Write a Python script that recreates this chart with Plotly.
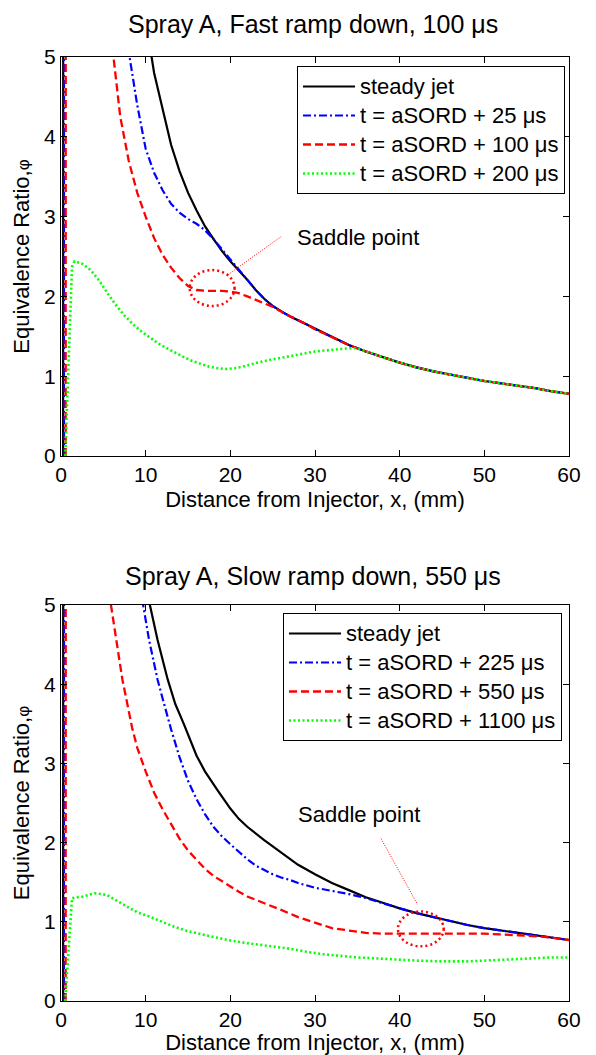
import plotly.graph_objects as go

# ---- Spray A, fast ramp down (100 us) ----
fast_steady_x = [0.25, 0.35, 3, 6, 9, 10.7, 11, 12, 13, 14, 15, 16, 17, 18, 19, 20, 21, 22, 23, 24, 25, 26, 27,
                 28, 29, 30, 32, 34, 36, 38, 40, 42, 44, 46, 48, 50, 52, 54, 56, 58, 60]
fast_steady_y = [0, 60, 25, 12, 6.8, 5.0, 4.8, 4.33, 3.9, 3.57, 3.30, 3.08, 2.88, 2.72, 2.57, 2.44, 2.33, 2.21,
                 2.08, 1.97, 1.88, 1.81, 1.75, 1.70, 1.65, 1.59, 1.49, 1.39, 1.31, 1.24, 1.17, 1.11, 1.06, 1.02,
                 0.98, 0.94, 0.91, 0.88, 0.85, 0.81, 0.78]

fast_25_x = [0.35, 0.45, 3, 6, 8.1, 9, 10, 11, 12, 13, 14, 15, 16, 17, 18, 19, 20, 21, 22, 23, 24, 25, 26, 27,
             28, 29, 30, 32, 34, 36, 38, 40, 42, 44, 46, 48, 50, 52, 54, 56, 58, 60]
fast_25_y = [0, 60, 25, 9, 5.0, 4.4, 3.85, 3.55, 3.33, 3.16, 3.05, 2.97, 2.91, 2.83, 2.72, 2.59, 2.46, 2.34,
             2.21, 2.08, 1.97, 1.88, 1.81, 1.75, 1.70, 1.65, 1.59, 1.49, 1.39, 1.31, 1.24, 1.17, 1.11, 1.06,
             1.02, 0.98, 0.94, 0.91, 0.88, 0.85, 0.81, 0.78]

fast_100_x = [0.55, 0.65, 3, 5, 6.2, 7, 8, 9, 10, 11, 12, 13, 14, 15, 16, 17, 18, 19, 20, 21, 22, 23, 24, 25,
              26, 27, 28, 29, 30, 32, 34, 36, 38, 40, 42, 44, 46, 48, 50, 52, 54, 56, 58, 60]
fast_100_y = [0, 60, 20, 8, 5.0, 4.25, 3.7, 3.3, 3.0, 2.73, 2.52, 2.36, 2.23, 2.13, 2.08, 2.07, 2.07, 2.07,
              2.06, 2.04, 2.00, 1.96, 1.92, 1.87, 1.81, 1.75, 1.70, 1.65, 1.59, 1.49, 1.39, 1.31, 1.24, 1.17,
              1.11, 1.06, 1.02, 0.98, 0.94, 0.91, 0.88, 0.85, 0.81, 0.78]

fast_200_x = [0.5, 0.75, 1.0, 1.3, 1.6, 2.5, 3.5, 4.5, 5.5, 6.5, 7.5, 8.5, 9.5, 10.5, 11.5, 12.5, 13.5, 14.5,
              15.5, 16.5, 17.5, 18.5, 19.5, 20.5, 21.5, 22.5, 24, 26, 28, 30, 32, 34, 35, 36, 38, 40, 42, 44,
              46, 48, 50, 52, 54, 56, 58, 60]
fast_200_y = [0, 0.7, 1.45, 2.37, 2.44, 2.41, 2.33, 2.2, 2.04, 1.89, 1.76, 1.65, 1.56, 1.48, 1.41, 1.35, 1.29,
              1.24, 1.19, 1.15, 1.12, 1.10, 1.09, 1.10, 1.12, 1.15, 1.19, 1.23, 1.27, 1.31, 1.33, 1.35, 1.35,
              1.31, 1.24, 1.17, 1.11, 1.06, 1.02, 0.98, 0.94, 0.91, 0.88, 0.85, 0.81, 0.78]

# ---- Spray A, slow ramp down (550 us) ----
slow_steady_x = [0.25, 0.35, 3, 6, 9, 10.5, 11.4, 12.6, 13.5, 14.5, 16, 17, 18.5, 20, 21, 22, 24, 26, 28, 30,
                 32, 34, 36, 38, 40, 42, 44, 46, 48, 50, 52, 54, 56, 58, 60]
slow_steady_y = [0, 60, 25, 12, 6.5, 5.0, 4.56, 4.06, 3.75, 3.5, 3.1, 2.9, 2.66, 2.43, 2.30, 2.2, 2.03, 1.87,
                 1.72, 1.60, 1.49, 1.40, 1.31, 1.24, 1.17, 1.11, 1.06, 1.01, 0.96, 0.92, 0.89, 0.86, 0.83, 0.80,
                 0.77]

slow_225_x = [0.35, 0.45, 3, 6, 9, 9.7, 10.4, 11.4, 12, 13, 14, 15, 16, 17, 18, 19, 20, 21, 22, 23, 24, 25, 26,
              27, 28, 30, 32, 34, 36, 38, 40, 42, 44, 46, 48, 50, 52, 54, 56, 58, 60]
slow_225_y = [0, 60, 25, 10, 5.6, 5.0, 4.56, 4.06, 3.82, 3.43, 3.08, 2.78, 2.55, 2.36, 2.2, 2.08, 1.98, 1.88,
              1.79, 1.71, 1.65, 1.60, 1.56, 1.53, 1.49, 1.43, 1.39, 1.35, 1.30, 1.23, 1.17, 1.11, 1.06, 1.01,
              0.96, 0.92, 0.89, 0.86, 0.83, 0.80, 0.77]

slow_550_x = [0.55, 0.65, 3, 5, 5.9, 6.5, 7.25, 8.4, 9, 10, 11, 12, 13, 14, 15, 16, 17, 18, 19, 20, 21, 22, 24,
              26, 28, 30, 32, 34, 36, 38, 40, 45, 50, 54, 57, 60]
slow_550_y = [0, 60, 20, 7, 5.0, 4.56, 4.06, 3.45, 3.2, 2.9, 2.63, 2.42, 2.23, 2.05, 1.9, 1.78, 1.67, 1.58,
              1.51, 1.45, 1.38, 1.32, 1.24, 1.15, 1.06, 0.99, 0.92, 0.89, 0.86, 0.85, 0.85, 0.85, 0.85, 0.83,
              0.81, 0.77]

slow_1100_x = [0.5, 0.8, 1.07, 1.3, 2.6, 4.0, 5.4, 6.5, 7.8, 9, 10.6, 12, 13.3, 15, 17.3, 19.7, 22, 25.2, 27,
               29.1, 31, 33, 35, 37, 40, 42, 45, 48, 50, 52, 55, 58, 60]
slow_1100_y = [0, 0.5, 0.94, 1.30, 1.32, 1.36, 1.34, 1.27, 1.19, 1.12, 1.06, 1.0, 0.94, 0.88, 0.83, 0.77, 0.73,
               0.69, 0.66, 0.62, 0.59, 0.57, 0.55, 0.54, 0.52, 0.51, 0.50, 0.50, 0.51, 0.52, 0.54, 0.55, 0.55]

x_ticks = [0, 10, 20, 30, 40, 50, 60]
y_ticks = [0, 1, 2, 3, 4, 5]

FONT = "Liberation Sans, Arial, sans-serif"

styles = [
    dict(color="#000000", width=2.2, dash="solid"),
    dict(color="#0000FF", width=2.2, dash="8px,3px,2px,3px"),
    dict(color="#FF0000", width=2.3, dash="8px,4px"),
    dict(color="#00FF00", width=2.6, dash="2px,2.5px"),
]

fig = go.Figure()

fast_series = [
    ("steady jet", fast_steady_x, fast_steady_y),
    ("t = aSORD + 25 μs", fast_25_x, fast_25_y),
    ("t = aSORD + 100 μs", fast_100_x, fast_100_y),
    ("t = aSORD + 200 μs", fast_200_x, fast_200_y),
]
slow_series = [
    ("steady jet", slow_steady_x, slow_steady_y),
    ("t = aSORD + 225 μs", slow_225_x, slow_225_y),
    ("t = aSORD + 550 μs", slow_550_x, slow_550_y),
    ("t = aSORD + 1100 μs", slow_1100_x, slow_1100_y),
]


def legend_label(s):
    # legend rows are spaced by the legend font size; the label itself is drawn a bit larger
    return "<span style='font-size:22px'>" + s + "</span>"


for (name, xs, ys), st in zip(fast_series, styles):
    fig.add_trace(go.Scatter(x=xs, y=ys, mode="lines", name=legend_label(name), line=st,
                             xaxis="x", yaxis="y", legend="legend"))
for (name, xs, ys), st in zip(slow_series, styles):
    fig.add_trace(go.Scatter(x=xs, y=ys, mode="lines", name=legend_label(name), line=st,
                             xaxis="x2", yaxis="y2", legend="legend2"))

W, H = 596, 1055
x_dom = [61 / W, 569 / W]
top_dom = [(H - 456) / H, (H - 57) / H]
bot_dom = [(H - 1001) / H, (H - 605) / H]

axis_common = dict(showline=True, linecolor="black", linewidth=1, mirror="ticks", ticks="inside",
                   ticklen=6, tickwidth=1, tickcolor="black", showgrid=False, zeroline=False,
                   automargin=False, tickfont=dict(family=FONT, size=21, color="black"))

xlabel = dict(text="Distance from Injector, x, (mm)", font=dict(family=FONT, size=22, color="black"),
              standoff=6)
ylabel = dict(text="Equivalence Ratio,<span style='font-size:17px'>φ</span>",
              font=dict(family=FONT, size=22, color="black"), standoff=8)

legend_common = dict(xanchor="right", yanchor="top", bgcolor="white", bordercolor="black", borderwidth=1,
                     itemwidth=52, tracegroupgap=0, font=dict(family=FONT, size=20, color="black"))

fig.update_layout(
    width=W, height=H,
    margin=dict(l=0, r=0, t=0, b=0),
    paper_bgcolor="white", plot_bgcolor="white",
    font=dict(family=FONT, color="black"),
    xaxis=dict(domain=x_dom, range=[0, 60], tickvals=x_ticks, anchor="y", title=xlabel, **axis_common),
    yaxis=dict(domain=top_dom, range=[0, 5], tickvals=y_ticks, anchor="x", title=ylabel, **axis_common),
    xaxis2=dict(domain=x_dom, range=[0, 60], tickvals=x_ticks, anchor="y2", title=xlabel, **axis_common),
    yaxis2=dict(domain=bot_dom, range=[0, 5], tickvals=y_ticks, anchor="x2", title=ylabel, **axis_common),
    legend=dict(x=565 / W, y=(H - 66) / H, **legend_common),
    legend2=dict(x=562 / W, y=(H - 613) / H, **legend_common),
    showlegend=True,
)

# Panel titles
fig.add_annotation(text="Spray A, Fast ramp down, 100 μs", xref="paper", yref="paper",
                   x=313 / W, y=(H - 24) / H, xanchor="center", yanchor="middle", showarrow=False,
                   font=dict(family=FONT, size=25, color="black"))
fig.add_annotation(text="Spray A, Slow ramp down, 550 μs", xref="paper", yref="paper",
                   x=313 / W, y=(H - 576) / H, xanchor="center", yanchor="middle", showarrow=False,
                   font=dict(family=FONT, size=25, color="black"))

# Saddle point callouts
fig.add_annotation(text="Saddle point", xref="x", yref="y", x=27.6, y=2.74, xanchor="left",
                   yanchor="middle", showarrow=False, font=dict(family=FONT, size=22, color="black"))
fig.add_annotation(text="Saddle point", xref="x2", yref="y2", x=27.8, y=2.35, xanchor="left",
                   yanchor="middle", showarrow=False, font=dict(family=FONT, size=22, color="black"))

fig.add_shape(type="circle", xref="x", yref="y", x0=15.2, x1=20.5, y0=1.88, y1=2.33,
              line=dict(color="#FF0000", width=2.5, dash="2px,3px"))
fig.add_shape(type="line", xref="x", yref="y", x0=19.7, y0=2.27, x1=26.0, y1=2.75,
              line=dict(color="#FF0000", width=1, dash="1px,1.5px"))
fig.add_shape(type="circle", xref="x2", yref="y2", x0=39.8, x1=45.2, y0=0.69, y1=1.13,
              line=dict(color="#FF0000", width=2.5, dash="2px,3px"))
fig.add_shape(type="line", xref="x2", yref="y2", x0=37.8, y0=2.05, x1=42.1, y1=1.22,
              line=dict(color="#FF0000", width=1, dash="1px,1.5px"))

fig.write_html("out.html")
